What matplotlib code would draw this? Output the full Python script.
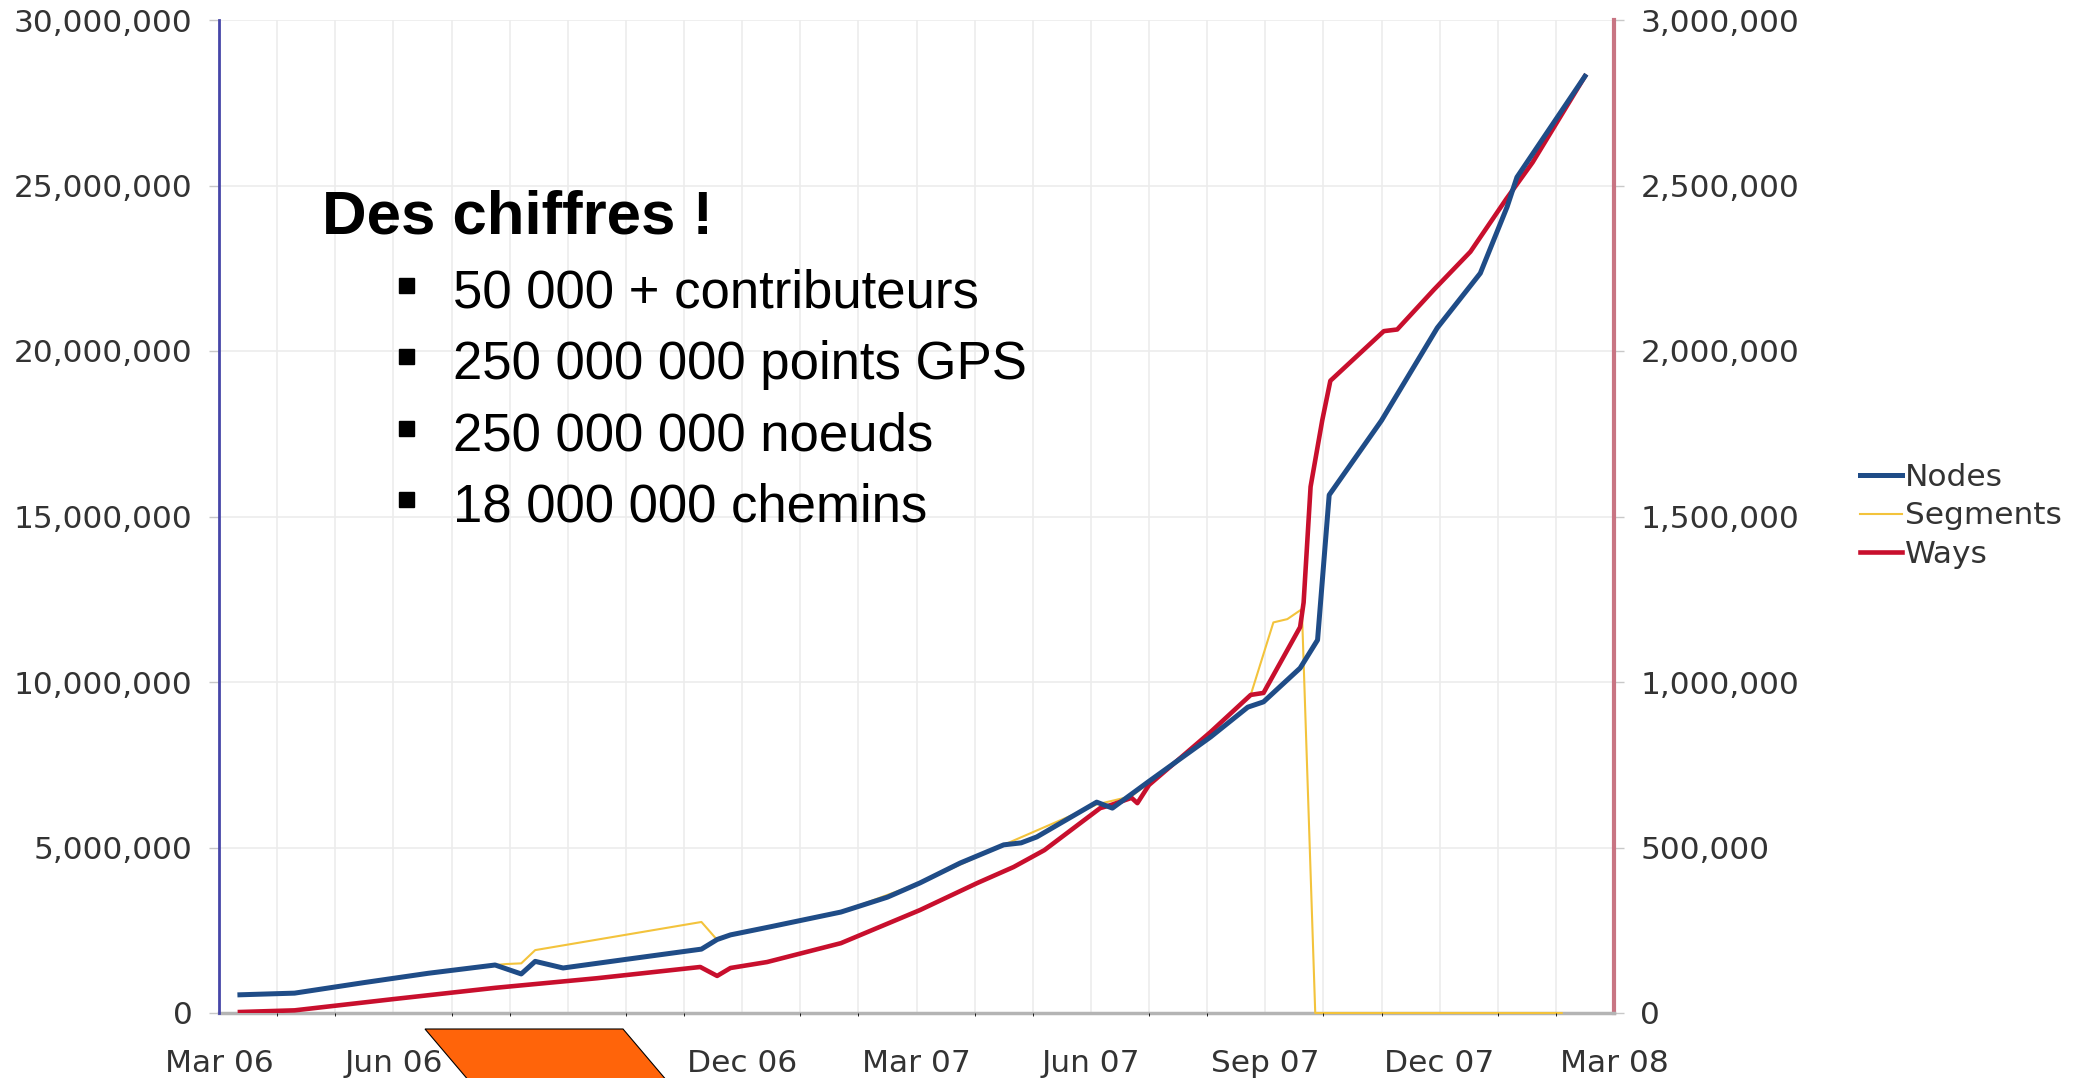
import matplotlib
matplotlib.use('Agg')
import matplotlib.pyplot as plt
from matplotlib.patches import Polygon, Rectangle
from matplotlib.lines import Line2D
from matplotlib.ticker import FuncFormatter, MultipleLocator

# x positions are months after March 2006
node_months = [0.36, 1.3, 2.5, 3.6, 4.75, 5.2, 5.44, 5.92, 7.0, 8.3, 8.57, 8.8,
               9.5, 10.7, 11.5, 12.06, 12.75, 13.5, 13.8, 14.07, 15.1, 15.37,
               16.0, 17.06, 17.7, 17.97, 18.6, 18.9, 19.1, 20.0, 20.96, 21.7,
               22.16, 22.33, 23.5]
nodes = [550e3, 600e3, 920e3, 1.2e6, 1.45e6, 1.18e6, 1.56e6, 1.36e6, 1.62e6,
         1.93e6, 2.22e6, 2.36e6, 2.61e6, 3.05e6, 3.5e6, 3.93e6, 4.53e6, 5.08e6,
         5.14e6, 5.32e6, 6.37e6, 6.19e6, 7.0e6, 8.34e6, 9.24e6, 9.4e6, 10.42e6,
         11.27e6, 15.65e6, 17.9e6, 20.7e6, 22.35e6, 24.35e6, 25.25e6, 28.3e6]

seg_months = [0.36, 1.3, 2.5, 3.6, 4.75, 4.95, 5.2, 5.44, 8.3, 8.55, 8.8, 10.7,
              12.06, 13.5, 15.1, 15.7, 16.0, 17.06, 17.75, 18.14, 18.38, 18.63,
              18.86, 23.1]
segments = [55e3, 60e3, 92e3, 120e3, 145e3, 148e3, 150e3, 190e3, 275e3, 225e3,
            236e3, 305e3, 393e3, 508e3, 630e3, 655e3, 695e3, 849e3, 961e3,
            1.18e6, 1.19e6, 1.22e6, 0, 0]

way_months = [0.36, 1.3, 3.0, 4.75, 6.5, 8.28, 8.57, 8.8, 9.43, 10.7, 12.06,
              13.05, 13.67, 14.2, 15.16, 15.34, 15.7, 15.8, 16.0, 17.06, 17.75,
              17.97, 18.6, 18.66, 18.78, 18.98, 19.12, 20.04, 20.27, 20.9,
              21.53, 22.15, 22.6, 23.5]
ways = [3e3, 8e3, 42e3, 76e3, 105e3, 139e3, 112e3, 136e3, 154e3, 211e3, 311e3,
        393e3, 441e3, 492e3, 619e3, 628e3, 650e3, 634e3, 689e3, 849e3, 961e3,
        967e3, 1.166e6, 1.24e6, 1.59e6, 1.79e6, 1.91e6, 2.06e6, 2.065e6,
        2.185e6, 2.3e6, 2.46e6, 2.57e6, 2.83e6]

tick_months = [0, 3, 6, 9, 12, 15, 18, 21, 24]
tick_labels = ['Mar 06', 'Jun 06', 'Sep 06', 'Dec 06', 'Mar 07', 'Jun 07',
               'Sep 07', 'Dec 07', 'Mar 08']

bullets = ['50 000 + contributeurs', '250 000 000 points GPS',
           '250 000 000 noeuds', '18 000 000 chemins']

W, H = 2084, 1078
colors = {'nodes': '#1f4c87', 'segments': '#f3c33c', 'ways': '#c80f2d'}
label_color = '#333333'


def fx(px):
    return px / W


def fy(py):
    return 1 - py / H


fig = plt.figure(figsize=(W / 100, H / 100), dpi=100)
ax = fig.add_axes([fx(219), fy(1013), (1614 - 219) / W, (1013 - 20) / H])
ax2 = ax.twinx()

# nodes axis drawn on top of the right (ways/segments) axis
ax.set_zorder(ax2.get_zorder() + 1)
ax.patch.set_visible(False)

ax2.plot(seg_months, segments, color=colors['segments'], lw=1.5, zorder=3,
         clip_on=False)
ax2.plot(way_months, ways, color=colors['ways'], lw=3.3, solid_joinstyle='round',
         zorder=4)
ax.plot(node_months, nodes, color=colors['nodes'], lw=3.6, solid_joinstyle='round')

ax.set_xlim(0, 24)
ax.set_ylim(0, 30e6)
ax2.set_ylim(0, 3e6)

fmt = FuncFormatter(lambda v, p: f'{int(v):,}')
ax.yaxis.set_major_locator(MultipleLocator(5e6))
ax.yaxis.set_major_formatter(fmt)
ax2.yaxis.set_major_locator(MultipleLocator(5e5))
ax2.yaxis.set_major_formatter(fmt)

ax.set_xticks(tick_months)
ax.set_xticklabels(tick_labels)

# grid lives on the bottom axis so it stays under every line
ax2.xaxis.set_visible(True)
ax2.xaxis.set_minor_locator(MultipleLocator(1))
ax2.tick_params(axis='x', which='both', bottom=False, top=False,
                labelbottom=False, labeltop=False)
ax2.grid(True, which='both', axis='x', color='#ececec', lw=1.2)
ax2.grid(True, which='major', axis='y', color='#ececec', lw=1.2)

ax.tick_params(axis='y', length=7, width=1, color='#c8c8c8', pad=12,
               labelsize=22.5, labelcolor=label_color)
ax2.tick_params(axis='y', length=7, width=1, color='#c8c8c8', pad=12,
                labelsize=22.5, labelcolor=label_color)
ax.tick_params(axis='x', length=0, pad=26, labelsize=22.5, labelcolor=label_color)

for a in (ax, ax2):
    a.spines['top'].set_visible(False)
ax.spines['right'].set_visible(False)
ax.spines['bottom'].set_visible(False)
ax2.spines['left'].set_visible(False)
ax.spines['left'].set_color('#4646a8')
ax.spines['left'].set_linewidth(2)
ax2.spines['right'].set_color('#c87583')
ax2.spines['right'].set_linewidth(3)
ax2.spines['bottom'].set_color('#b4b4b4')
ax2.spines['bottom'].set_linewidth(2.5)

handles = [Line2D([], [], color=colors['nodes'], lw=3.6),
           Line2D([], [], color=colors['segments'], lw=1.5),
           Line2D([], [], color=colors['ways'], lw=3.3)]
leg = fig.legend(handles, ['Nodes', 'Segments', 'Ways'], loc='center left',
                 bbox_to_anchor=(fx(1860), fy(516)), frameon=False,
                 fontsize=22.5, handlelength=1.35, handletextpad=0.1,
                 labelspacing=0.3, borderpad=0, borderaxespad=0)
for t in leg.get_texts():
    t.set_color(label_color)

# slide overlay text
fig.text(fx(322), fy(233), 'Des chiffres !', fontsize=44.5, fontweight='bold',
         family='Liberation Sans', ha='left', va='baseline', zorder=10)
for i, line in enumerate(bullets):
    base = 308 + i * 71.3
    fig.text(fx(453), fy(base), line, fontsize=38, family='Liberation Sans',
             ha='left', va='baseline', zorder=10)
    fig.add_artist(Rectangle((fx(399), fy(base - 15)), 15 / W, 15 / H,
                             transform=fig.transFigure, color='black', zorder=10))

# orange shape at the bottom of the slide
shape = Polygon([(fx(425), fy(1029)), (fx(623), fy(1029)), (fx(690), fy(1108)),
                 (fx(492), fy(1108))], closed=True, transform=fig.transFigure,
                facecolor='#ff640a', edgecolor='black', lw=0.8, zorder=20,
                clip_on=False)
fig.add_artist(shape)

fig.savefig('out.png', dpi=100)
